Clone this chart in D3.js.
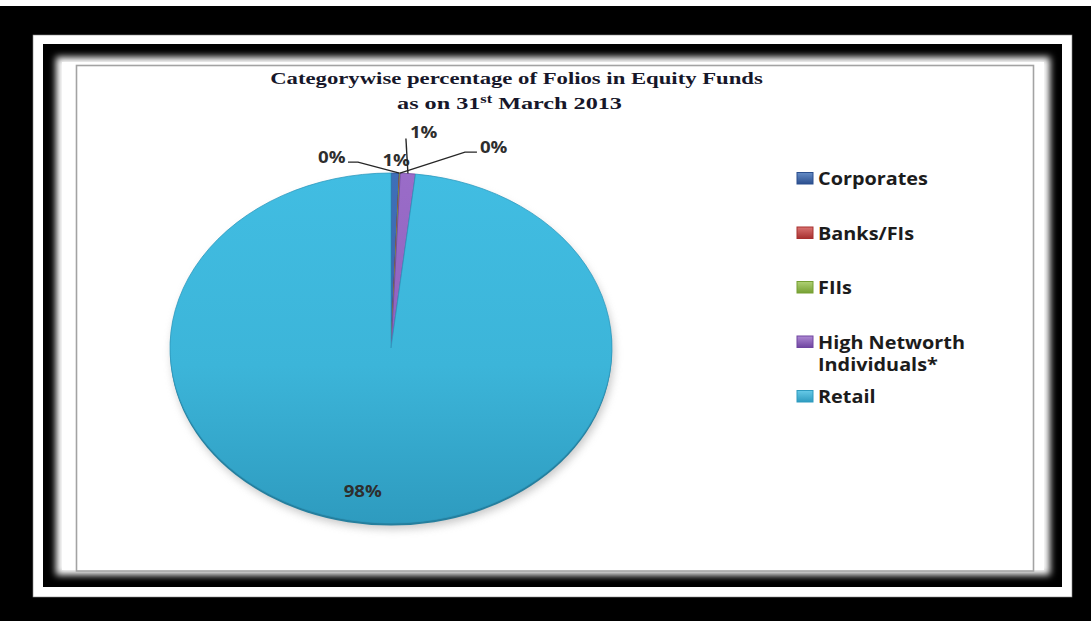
<!DOCTYPE html>
<html>
<head>
<meta charset="utf-8">
<script src="https://cdn.jsdelivr.net/npm/d3@7"></script>
<style>
  html, body { margin: 0; padding: 0; background: #000; }
  svg { display: block; }
</style>
</head>
<body>
<svg id="chart" width="1091" height="621"></svg>
<script>
// Folio shares (%) by investor category, equity funds, 31 March 2013
const categories = ["Corporates", "Banks/FIs", "FIIs", "High Networth Individuals*", "Retail"];
const shares = [0.6, 0.02, 0.05, 1.1, 98.23];
const legendLines = [["Corporates"], ["Banks/FIs"], ["FIIs"], ["High Networth", "Individuals*"], ["Retail"]];
const titleLine1 = "Categorywise percentage of Folios in Equity Funds";

// slice fills: [light, dark]
const sliceColors = [
  ["#3f6fb8", "#2b4f8e"],
  ["#d0504f", "#a7302f"],
  ["#9cc552", "#76a033"],
  ["#9a6cc8", "#6f45a0"],
  ["#41bde2", "#2e9bbf"]
];

// label placement relative to the slice's rim point (pixels)
const labelLayout = [
  { dx: 1,   dy: -7,   anchor: "middle", leader: null },
  { dx: -54, dy: -10,  anchor: "end",    leader: [[-41.5, -11], [-51.5, -11]] },
  { dx: 80,  dy: -20,  anchor: "start",  leader: [[65, -21], [77, -21]] },
  { dx: 2,   dy: -36,  anchor: "start",  leader: [[-2, -35]] },
  { dx: -16, dy: -26,  anchor: "middle", leader: null }
];

const W = 1091, H = 621;
const svg = d3.select("#chart");
const defs = svg.append("defs");

// ---- frame ----
svg.append("rect").attr("width", W).attr("height", H).attr("fill", "#000");
svg.append("rect").attr("width", W).attr("height", 6).attr("fill", "#fff");
svg.append("rect").attr("x", 33).attr("y", 35).attr("width", 1039).attr("height", 562)
  .attr("fill", "#fff").attr("stroke", "#888").attr("stroke-width", 0.6);
svg.append("rect").attr("x", 43).attr("y", 44).attr("width", 1019).attr("height", 543).attr("fill", "#000");

defs.append("filter").attr("id", "glow").attr("x", "-5%").attr("y", "-5%").attr("width", "110%").attr("height", "110%")
  .append("feGaussianBlur").attr("stdDeviation", 3.6);
svg.append("rect").attr("x", 56).attr("y", 57).attr("width", 994).attr("height", 518)
  .attr("fill", "#fff").attr("filter", "url(#glow)");
svg.append("rect").attr("x", 62).attr("y", 62).attr("width", 982).attr("height", 508).attr("fill", "#fff");

// plot area
svg.append("rect").attr("x", 76.5).attr("y", 65.5).attr("width", 957).attr("height", 505.5)
  .attr("fill", "#fff").attr("stroke", "#a3a3a3").attr("stroke-width", 1.6);

// ---- title ----
const title = svg.append("g").attr("fill", "#17172a")
  .style("font-family", "'Liberation Serif', 'Times New Roman', serif")
  .style("font-weight", "bold").style("font-size", "17px");

function stretchedText(parent, x, y, width, builder) {
  const g = parent.append("g");
  const t = g.append("text").attr("text-anchor", "middle");
  builder(t);
  const w = t.node().getComputedTextLength();
  g.attr("transform", `translate(${x},${y}) scale(${width / w},1)`);
  return g;
}
stretchedText(title, 516.5, 84, 493, t => t.text(titleLine1));
stretchedText(title, 509.5, 109, 225, t => {
  t.append("tspan").text("as on 31");
  t.append("tspan").text("st").attr("dy", -6).style("font-size", "11.5px");
  t.append("tspan").text(" March 2013").attr("dy", 6);
});

// ---- pie ----
const cx = 391, cy = 348, rx = 221, ry = 175;
const pie = d3.pie().sort(null).value(d => d).startAngle(0).endAngle(2 * Math.PI);
const arcs = pie(shares);
const arc = d3.arc().innerRadius(0).outerRadius(rx);

// soft shadow and thin base under the pie face
defs.append("filter").attr("id", "pieShadow").attr("x", "-10%").attr("y", "-10%").attr("width", "120%").attr("height", "125%")
  .append("feGaussianBlur").attr("stdDeviation", 4);
svg.append("ellipse").attr("cx", cx + 2).attr("cy", cy + 6).attr("rx", rx).attr("ry", ry)
  .attr("fill", "#9a9a9a").attr("opacity", 0.55).attr("filter", "url(#pieShadow)");
svg.append("ellipse").attr("cx", cx).attr("cy", cy + 2.5).attr("rx", rx).attr("ry", ry)
  .attr("fill", "#247f9e");

sliceColors.forEach((c, i) => {
  const g = defs.append("linearGradient").attr("id", "slice" + i)
    .attr("gradientUnits", "userSpaceOnUse")
    .attr("x1", 0).attr("y1", -rx).attr("x2", 0).attr("y2", rx);
  g.append("stop").attr("offset", "0%").attr("stop-color", c[0]);
  g.append("stop").attr("offset", "55%").attr("stop-color", d3.interpolateRgb(c[0], c[1])(0.25));
  g.append("stop").attr("offset", "100%").attr("stop-color", c[1]);
});

const pieG = svg.append("g").attr("transform", `translate(${cx},${cy}) scale(1,${ry / rx})`);
pieG.selectAll("path.slice").data(arcs).join("path")
  .attr("class", "slice")
  .attr("d", arc)
  .attr("fill", (d, i) => `url(#slice${i})`)
  .attr("stroke", (d, i) => sliceColors[i][1])
  .attr("stroke-width", 0.8)
  .attr("vector-effect", "non-scaling-stroke");

// ---- data labels ----
const sansFont = "'Open Sans', 'DejaVu Sans', sans-serif";
// horizontal stretch shared by the sans labels and legend
const probe = svg.append("text").style("font-family", sansFont).style("font-weight", "bold")
  .style("font-size", "17px").text("Corporates");
const sx = 110 / probe.node().getComputedTextLength();
probe.remove();

function rimPoint(a) {
  return [cx + rx * Math.sin(a), cy - ry * Math.cos(a)];
}
const fmt = v => Math.round(v) + "%";

arcs.forEach((d, i) => {
  const lay = labelLayout[i];
  const [px, py] = rimPoint((d.startAngle + d.endAngle) / 2);
  if (lay.leader) {
    const pts = [[px, py]].concat(lay.leader.map(o => [px + o[0], py + o[1]]));
    svg.append("path").attr("d", d3.line()(pts))
      .attr("fill", "none").attr("stroke", "#262626").attr("stroke-width", 1.4);
  }
  svg.append("g").attr("transform", `translate(${px + lay.dx},${py + lay.dy}) scale(${sx},1)`)
    .append("text")
    .attr("text-anchor", lay.anchor)
    .style("font-family", sansFont).style("font-weight", "bold").style("font-size", "16px")
    .attr("fill", "#2e2e2e")
    .text(fmt(d.data));
});

// ---- legend ----
const legendX = 797, legendY0 = 185, legendStep = 54.5;
sliceColors.forEach((c, i) => {
  const g = defs.append("linearGradient").attr("id", "sw" + i).attr("x1", 0).attr("y1", 0).attr("x2", 0).attr("y2", 1);
  g.append("stop").attr("offset", "0%").attr("stop-color", d3.interpolateRgb(c[0], "#fff")(0.2));
  g.append("stop").attr("offset", "100%").attr("stop-color", c[1]);
});
const legend = svg.append("g");
categories.forEach((name, i) => {
  const y = legendY0 + i * legendStep;
  legend.append("rect").attr("x", legendX).attr("y", y - 12.5).attr("width", 16).attr("height", 11.5)
    .attr("fill", `url(#sw${i})`).attr("stroke", sliceColors[i][1]).attr("stroke-width", 1);
  legendLines[i].forEach((line, j) => {
    legend.append("g").attr("transform", `translate(818,${y + j * 22}) scale(${sx},1)`)
      .append("text")
      .style("font-family", sansFont).style("font-weight", "bold").style("font-size", "17px")
      .attr("fill", "#1c1c1c")
      .text(line);
  });
});
</script>
</body>
</html>
